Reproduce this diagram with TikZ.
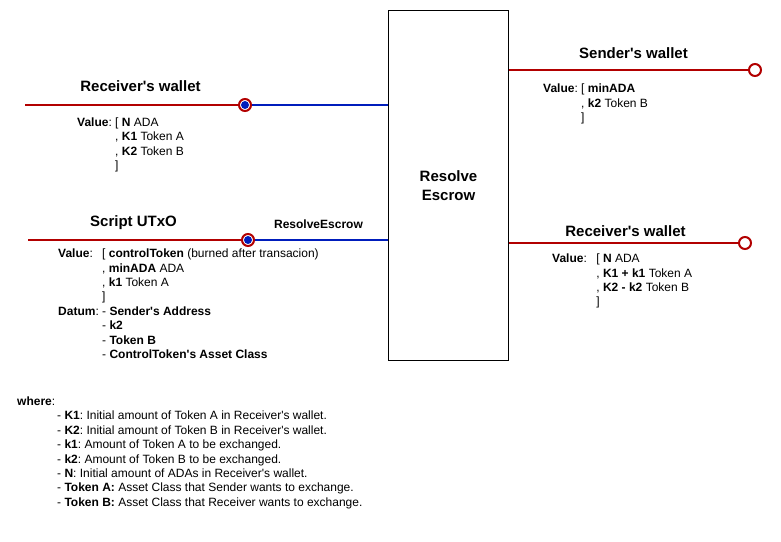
\documentclass[tikz,border=0pt]{standalone}
\usepackage{fontspec}
\setmainfont{Liberation Sans}
\usetikzlibrary{positioning}
\definecolor{wirered}{HTML}{B20000}
\definecolor{wireblue}{HTML}{001DBC}
\frenchspacing
\newcommand{\ap}{\textquotesingle}

\begin{document}
\begin{tikzpicture}[
    x=1pt, y=-1pt, % one unit = one pixel, y going down
    title/.style={font=\fontsize{15}{17}\selectfont\bfseries, inner sep=0pt},
    redeemer/.style={font=\fontsize{12}{14.4}\selectfont\bfseries, inner sep=0pt},
    info/.style={font=\fontsize{12}{14.4}\selectfont, inner sep=0pt, anchor=north west},
    validator/.style={rectangle, draw, line width=1pt, minimum width=120pt, minimum height=350pt, inner sep=0pt, align=center, font=\fontsize{15}{19}\selectfont\bfseries},
    redwire/.style={draw=wirered, line width=2pt},
    bluewire/.style={draw=wireblue, line width=2pt},
    outpin/.style={circle, draw=wirered, fill=white, line width=2pt, minimum size=12pt, inner sep=0pt},
    inpin/.style={outpin, path picture={\fill[wireblue] (path picture bounding box.center) circle (4pt);}}
]
    \useasboundingbox (0,0) rectangle (781,541);

    % the validator
    \node[validator, anchor=north west] (escrow) at (388,10) {Resolve\\Escrow};

    % inputs on the left
    \coordinate (rwstart) at (25,105);
    \node[inpin] (rwpin) at (245,105) {};
    \node[title] (rwtitle) at (140.5,86) {Receiver\ap s wallet};
    \node[info] (rwvalue) at (77,116) {\begin{tabular}{@{}l@{\ }l@{}}
        \textbf{Value}: & [ \textbf{N} ADA\\
        & , \textbf{K1} Token A\\
        & , \textbf{K2} Token B\\
        & ]
    \end{tabular}};

    \coordinate (sustart) at (28,240);
    \node[inpin] (supin) at (248,240) {};
    \node[title] (sutitle) at (133.5,223) {Script UTxO};
    \node[redeemer] (redeemer) at (318.5,224) {ResolveEscrow};
    \node[info] (suvalue) at (58,247.5) {\begin{tabular}{@{}l@{\ }l@{}}
        \textbf{Value}: & [ \textbf{controlToken} (burned after transacion)\\
        & , \textbf{minADA} ADA\\
        & , \textbf{k1} Token A\\
        & ]\\
        \textbf{Datum}: & - \textbf{Sender\ap s Address}\\
        & - \textbf{k2}\\
        & - \textbf{Token B}\\
        & - \textbf{ControlToken\ap s Asset Class}
    \end{tabular}};

    % outputs on the right
    \node[outpin] (swpin) at (755,70) {};
    \node[title] (swtitle) at (633.5,53) {Sender\ap s wallet};
    \node[info] (swvalue) at (543,82.5) {\begin{tabular}{@{}l@{\ }l@{}}
        \textbf{Value}: & [ \textbf{minADA}\\
        & , \textbf{k2} Token B\\
        & ]
    \end{tabular}};

    \node[outpin] (ropin) at (745,243) {};
    \node[title] (rotitle) at (625.5,231) {Receiver\ap s wallet};
    \node[info] (rovalue) at (552,252.5) {\begin{tabular}{@{}l@{\hspace{9.5pt}}l@{}}
        \textbf{Value}: & [ \textbf{N} ADA\\
        & , \textbf{K1 + k1} Token A\\
        & , \textbf{K2 - k2} Token B\\
        & ]
    \end{tabular}};

    % legend
    \node[info] (legend) at (17,395.2) {\begin{tabular}{@{}p{40pt}@{}l@{}}
        \textbf{where}: & \\
        & - \textbf{K1}: Initial amount of Token A in Receiver\ap s wallet.\\
        & - \textbf{K2}: Initial amount of Token B in Receiver\ap s wallet.\\
        & - \textbf{k1}: Amount of Token A to be exchanged.\\
        & - \textbf{k2}: Amount of Token B to be exchanged.\\
        & - \textbf{N}: Initial amount of ADAs in Receiver\ap s wallet.\\
        & - \textbf{Token A:} Asset Class that Sender wants to exchange.\\
        & - \textbf{Token B:} Asset Class that Receiver wants to exchange.
    \end{tabular}};

    % wires
    \path[redwire] (rwstart) -- (rwpin);
    \path[bluewire] (rwpin) -- (rwpin -| escrow.west);
    \path[redwire] (sustart) -- (supin);
    \path[bluewire] (supin) -- (supin -| escrow.west);
    \path[redwire] (swpin -| escrow.east) -- (swpin);
    \path[redwire] (ropin -| escrow.east) -- (ropin);

\end{tikzpicture}
\end{document}
